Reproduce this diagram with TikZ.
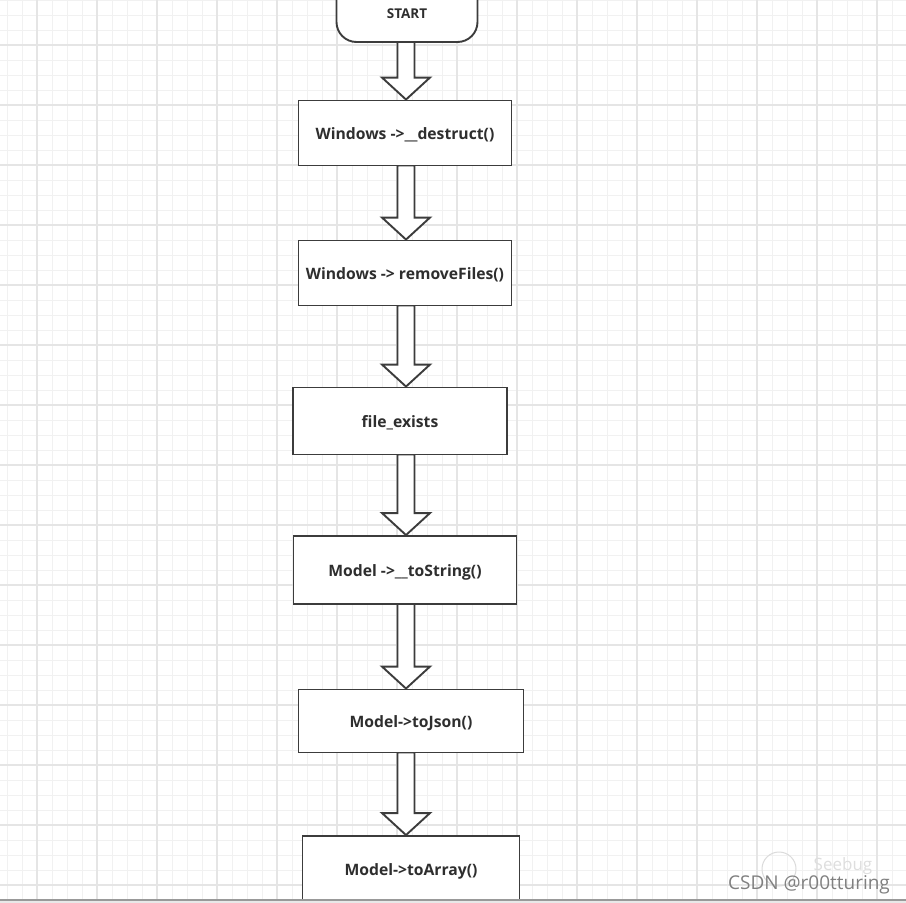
\documentclass[tikz,border=0pt]{standalone}
\usepackage{fontspec}
\setmainfont{Open Sans}
\usetikzlibrary{calc}
\definecolor{minorgrid}{HTML}{F1F1F1}
\definecolor{majorgrid}{HTML}{E5E5E5}
\definecolor{edge}{HTML}{3C3C3C}
\definecolor{txt}{HTML}{2E2E2E}
\pgfdeclarelayer{bg}
\pgfsetlayers{bg,main}
\begin{document}
\begin{tikzpicture}[x=1pt,y=-1pt,
  box/.style={draw=edge,line width=1.9pt,fill=white,inner sep=0pt,text=txt,
    text height=12pt,text depth=0pt,
    font=\bfseries\fontsize{15.7}{18}\selectfont},
  startbox/.style={draw=edge,line width=1.9pt,fill=white,inner sep=0pt,rounded corners=20pt,
    minimum width=141pt,minimum height=72pt},
  barrow/.style={draw=edge,line width=1.9pt,fill=white,line join=miter},
  minorline/.style={draw=minorgrid,line width=1pt},
  majorline/.style={draw=majorgrid,line width=1.2pt}]
\useasboundingbox (0,0) rectangle (906,903);
\clip (0,0) rectangle (906,903);
\begin{pgfonlayer}{bg}
  \fill[white] (0,0) rectangle (906,903);
  \foreach \x in {7,22,...,906} \draw[minorline] (\x,0) -- (\x,903);
  \foreach \y in {0,15,...,903} \draw[minorline] (0,\y) -- (906,\y);
  \foreach \x in {37,97,...,906} \draw[majorline] (\x,0) -- (\x,903);
  \foreach \y in {45,105,...,903} \draw[majorline] (0,\y) -- (906,\y);
\end{pgfonlayer}
\coordinate (ax) at (406,0);
\node[startbox,label={[yshift=-7.5pt,text=txt,font=\bfseries\fontsize{13.5}{15}\selectfont]center:START}] (start) at (407,6) {};
\node[box,minimum width=213pt,minimum height=65pt] (n1) at (405,133) {Windows ->\_\_destruct()};
\node[box,minimum width=213pt,minimum height=65pt] (n2) at (405,273) {Windows -> removeFiles()};
\node[box,minimum width=214pt,minimum height=67pt] (n3) at (400,421) {file\_exists};
\node[box,minimum width=223pt,minimum height=68pt] (n4) at (405,570) {Model ->\_\_toString()};
\node[box,minimum width=225pt,minimum height=63pt] (n5) at (411,721) {Model->toJson()};
\node[box,minimum width=217pt,minimum height=66pt] (n6) at (411,869) {Model->toArray()};
\begin{pgfonlayer}{bg}
\foreach \a/\b in {start/n1,n1/n2,n2/n3,n3/n4,n4/n5,n5/n6}{
  \draw[barrow] ($(\a.south -| ax)+(-8.5,-1)$) -- ($(\b.north -| ax)+(-8.5,-22)$)
    -- ($(\b.north -| ax)+(-24,-22)$) -- (\b.north -| ax)
    -- ($(\b.north -| ax)+(24,-22)$) -- ($(\b.north -| ax)+(8.5,-22)$)
    -- ($(\a.south -| ax)+(8.5,-1)$) -- cycle;
}
\end{pgfonlayer}
\draw[black!14,line width=1pt] (779,869) circle (17);
\node[text=black!13,font=\fontsize{17}{18}\selectfont] (sb) at (843,866) {Seebug};
\node[text=black!50,anchor=base,font=\fontsize{19}{20}\selectfont] (wm) at (809,889) {CSDN @r00tturing};
\fill[black!9] (0,900) rectangle (906,903);
\draw[black!40,line width=1.6pt] (0,899.8) -- (906,899.8);
\end{tikzpicture}
\end{document}
